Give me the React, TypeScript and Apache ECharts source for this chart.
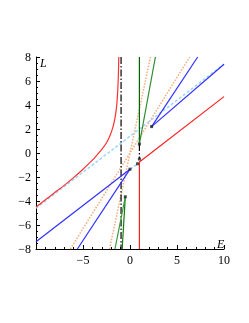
import React, { useEffect, useRef } from 'react';
import * as echarts from 'echarts';

const xTicks = [-10, -5, 0, 5, 10];
const yTicks = [-8, -6, -4, -2, 0, 2, 4, 6, 8];

const redCurve = [[-10, -4.5], [-9, -3.9], [-8, -3.3], [-7, -2.7], [-6, -2.05], [-5, -1.35], [-4, -0.6], [-3.5, -0.15], [-3, 0.3], [-2.5, 0.85], [-2.1, 1.5], [-1.8, 2.2], [-1.6, 2.9], [-1.45, 3.7], [-1.35, 4.6], [-1.28, 5.6], [-1.23, 6.7], [-1.19, 8]];
const redRight = [[10, 4.7], [1, -0.75], [1, -8]];
const dashDotLong = [[-0.95, 8], [-0.95, -8]];
const dashDotShort = [[1, 0.75], [1, -0.5]];
const greenUpVertical = [[1, 0.75], [1, 8]];
const greenUpSlant = [[1, 0.75], [2.7, 8]];
const greenLowSteep = [[-0.5, -3.65], [-0.83, -8]];
const greenLowSlant = [[-0.5, -3.65], [-1.6, -8]];
const blueUpA = [[2.3, 2.2], [7.2, 8]];
const blueUpB = [[2.3, 2.2], [10, 7.4]];
const blueLowA = [[0, -1.35], [-10, -7.4]];
const blueLowB = [[0, -1.35], [-5.6, -8]];
const lightBlueMain = [[-10, -4.6], [10, 7.4]];
const lightBlueShort = [[0, -1.35], [0.8, -0.9]];
const orangeA = [[-6.35, -8], [6.35, 8]];
const orangeB = [[-2.18, -8], [2.18, 8]];
const dots = [[1, 0.75], [1, -0.5], [0.8, -0.9], [0, -1.35], [2.3, 2.2], [-0.5, -3.65]];

const fmt = (v: number) => (v < 0 ? '\u2212' + -v : String(v));

export default function App() {
  const ref = useRef<HTMLDivElement>(null);
  useEffect(() => {
    if (!ref.current) return;
    const chart = echarts.init(ref.current, undefined, { renderer: 'svg' });
    const line = (data: number[][], color: string, type: any = 'solid', width = 1.2, smooth: any = false) => ({
      type: 'line',
      data,
      showSymbol: false,
      smooth,
      lineStyle: { color, width, type },
      silent: true,
      z: 2,
    });
    const font = { fontFamily: 'Liberation Serif', fontSize: 12, color: '#000' };
    chart.setOption({
      animation: false,
      grid: { left: 36, right: 25, top: 57, bottom: 74 },
      xAxis: {
        type: 'value',
        min: -10,
        max: 10,
        interval: 5,
        axisLine: { onZero: false, lineStyle: { color: '#000', width: 1 } },
        axisTick: { inside: true, length: 4, lineStyle: { color: '#000' } },
        minorTick: { show: true, splitNumber: 5, length: 2, lineStyle: { color: '#000' } },
        splitLine: { show: false },
        axisLabel: { ...font, margin: 5, formatter: (v: number) => (v === xTicks[0] ? '' : fmt(v)) },
      },
      yAxis: {
        type: 'value',
        min: yTicks[0],
        max: yTicks[yTicks.length - 1],
        interval: 2,
        axisLine: { show: true, onZero: false, lineStyle: { color: '#000', width: 1 } },
        axisTick: { show: true, inside: true, length: 4, lineStyle: { color: '#000' } },
        minorTick: { show: true, splitNumber: 4, length: 2, lineStyle: { color: '#000' } },
        splitLine: { show: false },
        axisLabel: { ...font, margin: 5, formatter: (v: number) => fmt(v) },
      },
      graphic: [
        { type: 'text', left: 40, top: 57, style: { text: 'L', font: 'italic 12px "Liberation Serif"', fill: '#000' } },
        { type: 'text', left: 217, top: 238, style: { text: 'E', font: 'italic 12px "Liberation Serif"', fill: '#000' } },
      ],
      series: [
        line(orangeA, '#f5ab7c', 'dotted', 1.5),
        line(orangeB, '#f5ab7c', 'dotted', 1.5),
        line(lightBlueMain, '#9dd6fb', [3, 2], 1.5),
        line(lightBlueShort, '#9dd6fb', [3, 2], 1.5),
        line(redCurve, '#ff3030', 'solid', 1.2, 0.3),
        line(redRight, '#ff2020'),
        line(dashDotLong, '#000', [7, 2, 1.5, 2]),
        line(dashDotShort, '#000', [7, 2, 1.5, 2]),
        line(greenUpVertical, '#006400'),
        line(greenUpSlant, '#2e8b2e'),
        line(greenLowSteep, '#117a11'),
        line(greenLowSlant, '#3a9a3a'),
        line(blueUpA, '#3030ff'),
        line(blueUpB, '#3030ff'),
        line(blueLowA, '#3030ff'),
        line(blueLowB, '#3030ff'),
        {
          type: 'scatter',
          data: dots,
          symbol: 'rect',
          symbolSize: 3,
          itemStyle: { color: '#222' },
          silent: true,
          z: 5,
        },
      ],
    });
    return () => chart.dispose();
  }, []);
  return <div ref={ref} style={{ position: 'fixed', left: 0, top: 0, width: 249, height: 323 }} />;
}
